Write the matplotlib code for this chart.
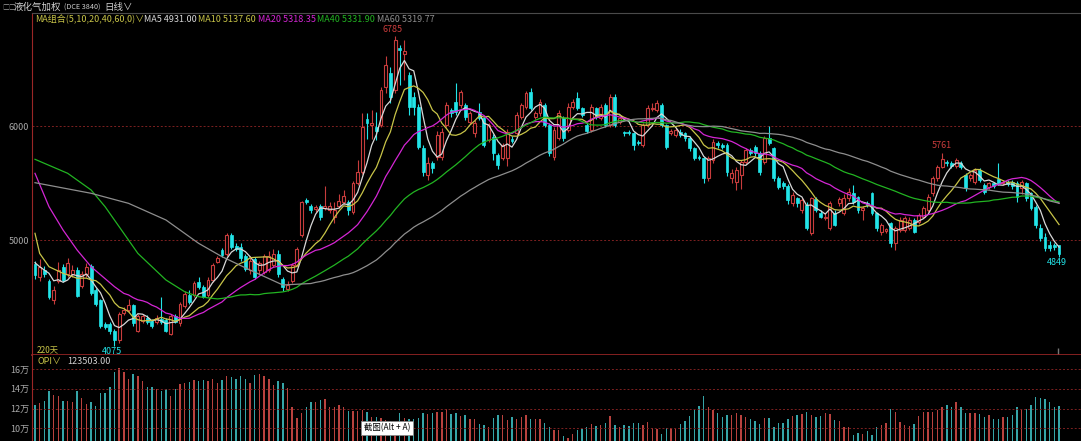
import matplotlib.pyplot as plt
import numpy as np
import pandas as pd

plt.rcParams['font.family'] = ['Noto Sans CJK SC', 'DejaVu Sans']

# daily candles, 220 days
opens = [4790, 4680, 4740, 4640, 4470, 4640, 4760, 4700, 4700, 4740,
         4600, 4700, 4770, 4560, 4470, 4260, 4260, 4200, 4120, 4360,
         4390, 4430, 4200, 4290, 4320, 4290, 4280, 4310, 4300, 4180,
         4330, 4270, 4420, 4520, 4520, 4630, 4590, 4520, 4650, 4810,
         4910, 4880, 5040, 4950, 4940, 4860, 4740, 4830, 4740, 4720,
         4740, 4780, 4880, 4660, 4570, 4640, 4780, 5040, 5350, 5300,
         5270, 5300, 5280, 5260, 5200, 5300, 5330, 5330, 5250, 5500,
         5600, 6060, 6010, 5990, 6009, 6345, 6462, 6316, 6680, 6630,
         6448, 6258, 6170, 5805, 5571, 5673, 5731, 5731, 6009, 6140,
         6214, 6185, 6184, 6038, 5936, 6126, 6068, 5878, 5907, 5746,
         5717, 5717, 5890, 5936, 6082, 6170, 6301, 6082, 6111, 6184,
         6009, 5731, 5892, 6068, 5965, 6170, 6243, 6155, 6009, 5965,
         6155, 6068, 6184, 6009, 6258, 6038, 5951, 5951, 5936, 5863,
         5834, 6009, 6150, 6141, 6184, 6009, 5940, 5921, 5951, 5936,
         5892, 5805, 5731, 5717, 5542, 5702, 5848, 5833, 5833, 5541,
         5512, 5570, 5687, 5789, 5818, 5760, 5687, 5892, 5804, 5541,
         5497, 5474, 5322, 5365, 5263, 5307, 5058, 5357, 5240, 5195,
         5102, 5234, 5322, 5234, 5365, 5409, 5374, 5263, 5322, 5409,
         5234, 5073, 5082, 5146, 4971, 5088, 5088, 5103, 5176, 5161,
         5205, 5263, 5410, 5541, 5643, 5687, 5673, 5649, 5673, 5570,
         5541, 5512, 5614, 5483, 5468, 5497, 5532, 5497, 5512, 5512,
         5503, 5453, 5497, 5410, 5293, 5103, 5030, 4960, 4960, 4957]
highs = [4820, 4830, 4770, 4660, 4600, 4810, 4790, 4840, 4780, 4760,
         4730, 4800, 4790, 4580, 4480, 4280, 4280, 4220, 4370, 4410,
         4480, 4440, 4350, 4350, 4340, 4310, 4340, 4500, 4320, 4350,
         4350, 4460, 4550, 4560, 4640, 4680, 4610, 4680, 4800, 4860,
         4930, 5060, 5060, 4970, 4970, 4880, 4860, 4850, 4820, 4880,
         4900, 4920, 4910, 4680, 4640, 4800, 4940, 5340, 5370, 5320,
         5310, 5320, 5470, 5330, 5330, 5400, 5440, 5350, 5520, 5700,
         6110, 6110, 6140, 6125, 6345, 6610, 6520, 6785, 6710, 6750,
         6470, 6300, 6190, 5830, 5730, 5690, 5960, 5980, 6214, 6160,
         6380, 6320, 6200, 6130, 6050, 6200, 6080, 6030, 5930, 5760,
         5850, 5970, 5910, 6120, 6200, 6310, 6330, 6130, 6240, 6200,
         6030, 5990, 6140, 6090, 6200, 6240, 6300, 6170, 6030, 6190,
         6170, 6190, 6200, 6280, 6280, 6080, 5960, 5965, 5950, 5880,
         6030, 6180, 6200, 6230, 6200, 6020, 5970, 5980, 5970, 5950,
         5910, 5820, 5750, 5730, 5740, 5890, 5870, 5850, 5850, 5620,
         5640, 5700, 5810, 5810, 5830, 5780, 5910, 6000, 5820, 5560,
         5520, 5490, 5420, 5380, 5370, 5330, 5380, 5380, 5260, 5240,
         5340, 5260, 5380, 5400, 5460, 5480, 5390, 5300, 5340, 5420,
         5250, 5150, 5110, 5160, 5120, 5200, 5210, 5200, 5190, 5240,
         5300, 5400, 5560, 5660, 5761, 5700, 5690, 5720, 5690, 5590,
         5590, 5630, 5630, 5500, 5510, 5510, 5673, 5530, 5530, 5530,
         5520, 5530, 5510, 5420, 5310, 5140, 5060, 4990, 4970, 4960]
lows = [4660, 4640, 4680, 4480, 4440, 4620, 4630, 4680, 4680, 4500,
        4580, 4680, 4520, 4420, 4230, 4220, 4180, 4075, 4100, 4340,
        4370, 4250, 4190, 4270, 4260, 4230, 4260, 4260, 4190, 4170,
        4270, 4250, 4400, 4440, 4500, 4570, 4490, 4500, 4630, 4800,
        4850, 4860, 4920, 4900, 4820, 4730, 4700, 4660, 4700, 4700,
        4720, 4760, 4680, 4550, 4550, 4620, 4770, 5030, 5320, 5240,
        5250, 5180, 5260, 5240, 5150, 5280, 5320, 5220, 5230, 5480,
        5580, 5890, 5890, 5880, 5990, 6290, 6200, 6290, 6360, 6400,
        6100, 6100, 5800, 5560, 5530, 5590, 5700, 5700, 5990, 6080,
        6100, 6160, 6050, 6020, 5900, 6050, 5820, 5860, 5700, 5620,
        5700, 5650, 5850, 5920, 6060, 6150, 6140, 6060, 6090, 5990,
        5740, 5700, 5880, 5870, 5950, 6150, 6140, 6080, 5940, 5950,
        6060, 6050, 5990, 5990, 5990, 6020, 5910, 5920, 5790, 5830,
        5820, 5990, 6130, 6120, 5990, 5800, 5920, 5900, 5900, 5870,
        5780, 5700, 5700, 5500, 5520, 5680, 5810, 5800, 5560, 5500,
        5440, 5450, 5670, 5750, 5740, 5570, 5670, 5830, 5520, 5450,
        5450, 5320, 5300, 5290, 5240, 5090, 5040, 5250, 5190, 5180,
        5090, 5120, 5300, 5220, 5340, 5320, 5240, 5180, 5290, 5220,
        5080, 5040, 5060, 4940, 4913, 5070, 5070, 5090, 5060, 5140,
        5190, 5250, 5390, 5520, 5630, 5650, 5630, 5630, 5620, 5430,
        5520, 5490, 5510, 5400, 5450, 5460, 5480, 5480, 5470, 5450,
        5330, 5400, 5340, 5260, 5110, 4990, 4900, 4900, 4910, 4849]
closes = [4694, 4760, 4700, 4500, 4560, 4740, 4650, 4800, 4740, 4510,
          4700, 4760, 4540, 4440, 4250, 4240, 4200, 4120, 4350, 4390,
          4430, 4270, 4330, 4330, 4280, 4250, 4320, 4280, 4200, 4330,
          4280, 4440, 4530, 4460, 4620, 4590, 4500, 4650, 4780, 4840,
          4870, 5040, 4940, 4920, 4840, 4750, 4820, 4680, 4800, 4860,
          4860, 4880, 4700, 4590, 4610, 4780, 4920, 5330, 5330, 5260,
          5290, 5200, 5300, 5300, 5260, 5340, 5390, 5260, 5500, 5600,
          5995, 6030, 6030, 5960, 6316, 6535, 6258, 6754, 6665, 6660,
          6170, 6170, 5819, 5600, 5673, 5629, 5921, 5951, 6184, 6110,
          6126, 6301, 6082, 6111, 6024, 6068, 5834, 6009, 5761, 5658,
          5834, 5951, 5870, 6097, 6184, 6287, 6155, 6111, 6214, 6009,
          5761, 5965, 6111, 5892, 6170, 6214, 6155, 6097, 5960, 6170,
          6082, 6170, 6009, 6258, 6009, 6068, 5936, 5936, 5834, 5848,
          6009, 6155, 6161, 6199, 6009, 5819, 5957, 5965, 5921, 5892,
          5805, 5717, 5717, 5542, 5717, 5862, 5833, 5818, 5599, 5585,
          5614, 5687, 5789, 5766, 5760, 5599, 5892, 5848, 5541, 5468,
          5474, 5351, 5395, 5322, 5351, 5102, 5365, 5263, 5205, 5205,
          5322, 5132, 5357, 5365, 5424, 5336, 5263, 5278, 5307, 5234,
          5102, 5132, 5095, 4971, 5103, 5176, 5190, 5176, 5073, 5220,
          5278, 5380, 5541, 5643, 5708, 5673, 5649, 5702, 5643, 5453,
          5570, 5614, 5527, 5424, 5497, 5474, 5497, 5512, 5489, 5474,
          5380, 5512, 5366, 5278, 5132, 5015, 4927, 4930, 4940, 4880]

# open interest, in 万 (10k) contracts
opi = [12.4, 12.6, 12.8, 13.8, 13.4, 13.3, 12.8, 12.8, 12.7, 13.8,
       13.1, 12.5, 12.7, 12.3, 13.6, 13.6, 14.2, 15.7, 16.1, 15.7,
       15.0, 15.5, 15.3, 14.8, 14.2, 14.2, 14.0, 13.8, 14.0, 13.3,
       14.0, 14.5, 14.6, 14.7, 14.9, 14.8, 14.9, 14.8, 15.0, 14.6,
       14.9, 15.3, 15.2, 15.0, 15.3, 15.0, 14.6, 15.4, 15.5, 15.3,
       15.0, 14.4, 14.8, 14.6, 14.1, 12.2, 11.0, 11.5, 12.2, 12.7,
       12.7, 12.9, 13.0, 12.2, 12.2, 12.4, 12.2, 11.8, 11.8, 11.8,
       11.9, 11.7, 11.1, 11.1, 11.0, 10.8, 10.7, 10.6, 11.5, 11.0,
       10.9, 10.9, 11.0, 11.5, 11.4, 11.5, 11.6,
       11.7, 12.0, 11.4, 11.5, 11.2, 11.3, 10.9, 10.9, 10.4, 10.3,
       10.1, 11.0, 11.3, 11.3, 10.8, 11.1, 10.9, 11.1, 11.3, 10.9,
       10.9, 10.9, 10.5, 10.1, 9.8, 9.8, 9.2, 9.0, 9.4, 9.8,
       9.9, 10.1, 10.4, 10.2, 10.3, 10.5, 11.2, 10.3, 10.1, 10.3,
       10.2, 10.5, 10.5, 10.3, 10.6, 10.0, 9.9, 9.4, 10.0, 10.0,
       9.9, 10.4, 10.7, 11.2, 11.9, 12.3, 13.3, 12.2, 11.9, 11.5,
       11.1, 11.3, 11.3, 11.5, 11.3, 11.1, 10.9, 10.7, 10.4, 11.0,
       11.0, 10.1, 10.5, 10.5, 10.9, 11.2, 11.3, 11.4, 11.7, 11.3,
       11.1, 11.2, 11.5, 11.4, 10.8, 10.7, 10.1, 10.1, 9.3, 9.5,
       9.4, 9.7, 9.3, 10.1, 10.3, 10.5, 12.0, 11.6, 10.6, 10.3,
       10.2, 10.4, 11.2, 11.6, 11.7, 11.7, 11.9, 12.2, 12.4, 12.2,
       12.7, 12.2, 11.5, 11.5, 11.5, 11.4, 11.1, 11.3, 10.9, 10.9,
       11.1, 11.1, 11.3, 12.2, 11.9, 12.0, 12.4, 13.2, 13.1, 13.0,
       12.7, 12.2, 12.3]

# moving averages: periods, legend text, and values at the left edge
# before a full window is available
ma_periods = [5, 10, 20, 40, 60]
ma_labels = ['MA5 4931.00', 'MA10 5137.60', 'MA20 5318.35', 'MA40 5331.90', 'MA60 5319.77']
ma5_head_idx, ma5_head = [0, 1, 3], [4801, 4766, 4708]
ma10_head_idx, ma10_head = [0, 1, 3, 6], [5059, 4883, 4766, 4708]
ma20_head_idx, ma20_head = [0, 3, 6, 9, 12, 17], [5585, 5292, 5088, 4913, 4766, 4591]
ma40_head_idx, ma40_head = [0, 7, 12, 15, 18, 22, 28, 32, 35], [5708, 5585, 5439, 5292, 5117, 4883, 4650, 4547, 4503]
ma60_head_idx, ma60_head = [0, 12, 20, 28, 35, 40, 46, 53], [5503, 5410, 5322, 5176, 4971, 4854, 4737, 4606]

W, H = 1081, 441
RED = '#c83c3c'
CYAN = '#22e4e8'
GRID = '#7d2020'
BORDER = '#9a2626'
ma_colors = ['#d8d8d8', '#c8c448', '#d426d4', '#22b422', '#8e8e8e']

fig = plt.figure(figsize=(W / 100, H / 100), dpi=100, facecolor='black')
ax = fig.add_axes([32 / W, (H - 355) / H, (W - 32) / W, (355 - 13) / H], facecolor='black')
ax2 = fig.add_axes([32 / W, 0, (W - 32) / W, (H - 355) / H], facecolor='black')

o = np.array(opens)
h = np.array(highs)
l = np.array(lows)
c = np.array(closes)
x = np.arange(len(c))
up = c >= o

# candles: hollow red up, solid cyan down
ax.vlines(x[up], l[up], h[up], color=RED, lw=0.8, zorder=2)
ax.vlines(x[~up], l[~up], h[~up], color=CYAN, lw=0.8, zorder=2)
body = np.maximum(np.abs(c - o), 10)
bottom = np.minimum(o, c)
ax.bar(x[up], body[up], bottom=bottom[up], width=0.62, facecolor='black',
       edgecolor=RED, linewidth=0.8, zorder=3)
ax.bar(x[~up], body[~up], bottom=bottom[~up], width=0.62, facecolor=CYAN,
       edgecolor=CYAN, linewidth=0.5, zorder=3)

# moving average lines
heads = [(ma5_head_idx, ma5_head), (ma10_head_idx, ma10_head), (ma20_head_idx, ma20_head),
         (ma40_head_idx, ma40_head), (ma60_head_idx, ma60_head)]
close_series = pd.Series(closes)
for period, (hidx, hval), col in zip(ma_periods, heads, ma_colors):
    ma = close_series.rolling(period).mean()
    xs = list(hidx) + list(x[period - 1:])
    ys = list(hval) + list(ma.values[period - 1:])
    ax.plot(xs, ys, color=col, lw=0.9, zorder=4)

# extreme price marks
i_hi = int(np.argmax(h))
i_lo = int(np.argmin(l))
i_hi2 = 180 + int(np.argmax(h[180:]))
i_last = len(c) - 1
ax.text(i_hi - 0.5, h[i_hi] + 25, f'{h[i_hi]}', color=RED, fontsize=6.5, ha='center', va='bottom')
ax.text(i_lo - 0.5, l[i_lo] - 10, f'{l[i_lo]}', color=CYAN, fontsize=6.5, ha='center', va='top')
ax.text(i_hi2, h[i_hi2] + 25, f'{h[i_hi2]}', color=RED, fontsize=6.5, ha='center', va='bottom')
ax.text(i_last - 0.5, l[i_last] - 10, f'{l[i_last]}', color=CYAN, fontsize=6.5, ha='center', va='top')

ax.set_xlim((32 - 35) / 4.676, (W - 35) / 4.676)
ax.set_ylim(3992, 6991)
ax.set_xticks([])
ax.set_yticks([5000, 6000])
ax.tick_params(axis='y', length=0, pad=2, labelcolor='#a8a8a8', labelsize=6.5)
ax.grid(axis='y', color=GRID, linestyle=(0, (2, 2)), lw=0.7)
ax.spines['right'].set_visible(False)
ax.spines['left'].set_color(BORDER)
ax.spines['bottom'].set_color(BORDER)
ax.spines['bottom'].set_linewidth(1.2)
ax.spines['top'].set_color('#4a4a4a')
ax.text(0.3, 4000, '220天', color='#c8c448', fontsize=6, ha='left', va='bottom')
ax.vlines(i_last - 0.2, 3992, 4050, color='#777777', lw=1.0)

# open interest panel
vol_colors = np.where(up, '#b9423e', '#35a5a8')
ax2.bar(x, np.array(opi) * 1e4, width=0.3, color=vol_colors)
ax2.set_xlim(ax.get_xlim())
ax2.set_ylim(87200, 174100)
ax2.set_xticks([])
ax2.set_yticks([100000, 120000, 140000, 160000])
ax2.set_yticklabels(['10万', '12万', '14万', '16万'])
ax2.tick_params(axis='y', length=0, pad=2, labelcolor='#a8a8a8', labelsize=6.5)
ax2.grid(axis='y', color=GRID, linestyle=(0, (2, 2)), lw=0.7)
for side in ['right', 'top', 'bottom']:
    ax2.spines[side].set_visible(False)
ax2.spines['left'].set_color(BORDER)
ax2.text(0.6, 172000, 'OPI∨', color='#c8c448', fontsize=6.5, ha='left', va='top')
ax2.text(6.8, 172000, '123503.00', color='#d0d0d0', fontsize=6.5, ha='left', va='top')

# header rows
base = 1 - 10 / H
fig.text(2 / W, base, '□□', color='#9a9a9a', fontsize=5, ha='left', va='baseline')
fig.text(14 / W, base, '液化气加权', color='#d0d0d0', fontsize=6.8, ha='left', va='baseline')
fig.text(64 / W, base, '(DCE 3840)', color='#d0d0d0', fontsize=5.2, ha='left', va='baseline')
fig.text(104 / W, base, '日线∨', color='#d0d0d0', fontsize=6.8, ha='left', va='baseline')

fig.text(35 / W, 1 - 19 / H, 'MA组合(5,10,20,40,60,0)∨', color='#c8c448', fontsize=6.5, ha='left', va='center')
label_x = [144, 198, 258, 317, 377]
for lx, lab, col in zip(label_x, ma_labels, ma_colors):
    fig.text(lx / W, 1 - 19 / H, lab, color=col, fontsize=6.5, ha='left', va='center')

fig.text(387 / W, 1 - 428 / H, '截图(Alt + A)', color='black', fontsize=6, ha='center', va='center',
         bbox=dict(boxstyle='square,pad=0.35', facecolor='white', edgecolor='#888888', lw=0.6))

fig.savefig('out.png', dpi=100, facecolor='black')
